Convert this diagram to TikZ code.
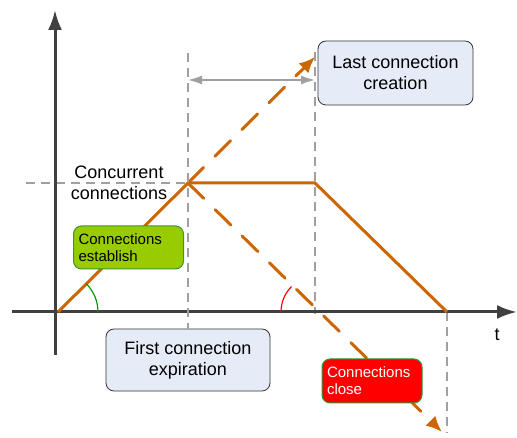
\documentclass[tikz,border=0pt]{standalone}
\usepackage{fontspec}
\setmainfont{Liberation Sans}
\usetikzlibrary{arrows.meta}
\definecolor{conorange}{HTML}{CC6600}
\definecolor{axisgray}{HTML}{404040}
\definecolor{guidegray}{HTML}{A0A0A0}
\definecolor{boxblue}{HTML}{E6ECF7}
\definecolor{boxgreen}{HTML}{99CC00}
\definecolor{boxedge}{HTML}{339933}
\tikzset{
  axis/.style={line width=3pt, axisgray, -{Latex[length=20pt,width=14pt]}},
  guide/.style={guidegray, line width=1.5pt, dash pattern=on 9pt off 6pt},
  load/.style={conorange, line width=3pt},
  trend/.style={conorange, line width=3pt, line cap=round, dash pattern=on 22pt off 16pt,
    -{Latex[length=16pt,width=14pt]}},
  infobox/.style={draw=black!80, fill=boxblue, rounded corners=8pt, align=center,
    font=\fontsize{18}{21}\selectfont, line width=0.8pt},
  tagbox/.style={draw=boxedge, rounded corners=8pt, align=left,
    font=\fontsize{15}{17}\selectfont, line width=1pt, inner sep=5pt}
}

\begin{document}
\begin{tikzpicture}[x=1pt,y=1pt]
    \useasboundingbox (0,0) rectangle (517,438);
    % Corner points of the connection count
    \coordinate (o) at (58,126);
    \coordinate (p) at (188,255);
    \coordinate (q) at (315,255);
    \coordinate (e) at (447,126);
    \coordinate (x1) at (317,126);
    % Ends of axes and guides
    \coordinate (xstart) at (12,126);
    \coordinate (xend) at (517,126);
    \coordinate (ystart) at (55,83);
    \coordinate (yend) at (55,428);
    \coordinate (level) at (26,255);
    \coordinate (ptop) at (188,385);
    \coordinate (qtop) at (315,386);
    \coordinate (qbot) at (315,124);
    \coordinate (ebot) at (447,5);
    \coordinate (gl) at (188,358);
    \coordinate (gr) at (315,358);
    \coordinate (upend) at (315,381);
    \coordinate (downend) at (442,6);
    % Gray guides
    \draw[guide] (level) -- (p);
    \draw[guide] (qtop) -- (qbot);
    \draw[guide] (e) -- (ebot);
    \draw[guidegray, line width=1.5pt, {Latex[length=14pt,width=9pt]}-{Latex[length=14pt,width=9pt]}] (gl) -- (gr);
    % Axes
    \draw[axis] (xstart) -- (xend);
    \draw[axis] (ystart) -- (yend);
    % Connection count
    \draw[load] (o) -- (p) -- (q) -- (e);
    \draw[trend] (p) -- (upend);
    \draw[trend] (p) -- (downend);
    % Angles
    \draw[green!60!black, line width=1.2pt] ([shift={(0:40)}]o) arc (0:45:40);
    \draw[red, line width=1.2pt] ([shift={(135:36)}]x1) arc (135:180:36);
    % Labels
    \node[infobox, minimum width=155pt, minimum height=64pt] (last) at (395.5,365) {Last connection\\creation};
    \node[infobox, minimum width=164pt, minimum height=62pt] (first) at (188,78) {First connection\\expiration};
    \draw[guide] (ptop) -- (first.north);
    \node[tagbox, fill=boxgreen, text width=100pt, minimum height=43pt] (establish) at (128.5,190.5) {Connections\\establish};
    \node[tagbox, fill=red, text=white, text width=90pt, minimum height=44pt] (close) at (372,57) {Connections\\close};
    \node[align=center, font=\fontsize{18}{21}\selectfont] (conc) at (119,255) {Concurrent\\connections};
    \node[font=\fontsize{18}{21}\selectfont] (t) at (497,103) {t};
\end{tikzpicture}
\end{document}
